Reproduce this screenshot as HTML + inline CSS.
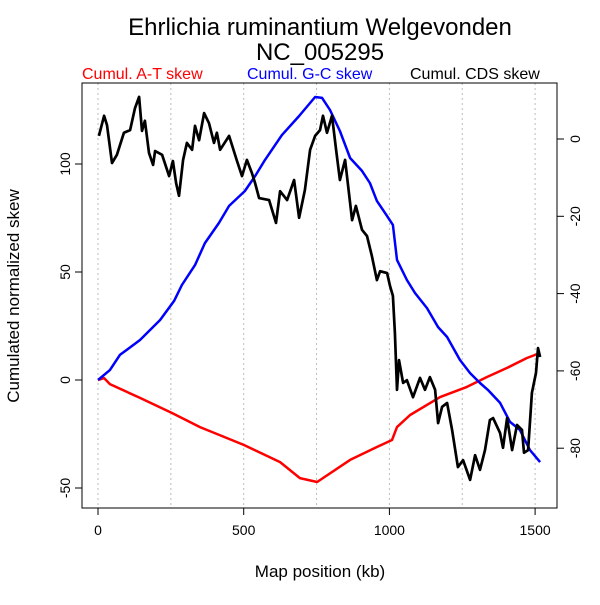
<!DOCTYPE html>
<html><head><meta charset="utf-8"><style>body{margin:0;background:#fff}svg text{font-family:"Liberation Sans",Arial,sans-serif}</style></head>
<body>
<svg id="chart" width="600" height="600" xmlns="http://www.w3.org/2000/svg">
<text x="320" y="35" font-size="24" text-anchor="middle">Ehrlichia ruminantium Welgevonden</text>
<text x="320" y="60" font-size="24" text-anchor="middle">NC_005295</text>
<text x="82" y="79" font-size="16" fill="#ff0000">Cumul. A-T skew</text>
<text x="247" y="79" font-size="16" fill="#0000ff">Cumul. G-C skew</text>
<text x="410" y="79" font-size="16" fill="#000">Cumul. CDS skew</text>
<text x="320" y="577" font-size="17" text-anchor="middle">Map position (kb)</text>
<text transform="translate(19,296) rotate(-90)" font-size="17" text-anchor="middle">Cumulated normalized skew</text>
<g id="grid"></g><g id="axes"></g><g id="series"></g>
<rect x="82" y="83" width="475" height="425" fill="none" stroke="#000" stroke-width="1"/>
</svg>
<script>
const xTicks=[0,500,1000,1500];
const gridX=[0,250,500,750,1000,1250,1500];
const leftTicks=[-50,0,50,100];
const rightTicks=[-80,-60,-40,-20,0];
const atX=[0,21,41,144,254,350,501,625,693,752,865,957,1009,1026,1071,1174,1266,1335,1404,1472,1517];
const atY=[0,0.9,-1.9,-8.3,-15.3,-21.8,-30.1,-38,-45.4,-47.2,-37,-31,-27.8,-21.8,-16.2,-7.9,-3.2,1.4,5.6,10.2,12.5];
const gcX=[0,41,75,144,213,261,288,333,367,415,450,504,539,573,631,690,745,769,796,830,865,906,933,957,992,1012,1026,1060,1088,1129,1167,1198,1242,1277,1311,1338,1380,1414,1448,1482,1517];
const gcY=[0,4.6,11.6,18.5,27.8,36.6,44,53.2,63.4,72.7,80.6,87.5,94.4,101.9,113.4,122.2,131,130.6,125,115.3,102.8,96.8,91.2,82.9,75.9,71.8,55.6,46.3,40.3,33.3,24.5,19.9,9.3,3.2,-1.4,-4.6,-10.6,-19.4,-23.1,-32.4,-38];
const cdsX=[3,21,31,48,65,89,110,127,141,151,161,175,189,196,220,244,257,268,278,292,305,323,333,347,364,381,398,408,419,450,477,494,511,528,539,553,587,611,625,649,673,690,710,728,745,762,772,786,803,817,830,848,872,885,906,923,940,957,968,992,1002,1012,1019,1026,1033,1047,1060,1081,1105,1122,1139,1157,1167,1181,1198,1215,1235,1253,1277,1294,1311,1328,1345,1356,1380,1390,1404,1421,1438,1455,1462,1476,1489,1503,1510,1517];
const cdsY=[0.8,6,3.6,-6.2,-4.1,1.6,2.3,8,10.9,2.1,4.7,-3.6,-6.7,-3.1,-4.1,-9.6,-5.7,-11.4,-14.7,-5.4,-1,-2.8,3.4,-0.3,6.7,4.1,-1,1.6,-2.8,0.8,-5.7,-9.6,-5.4,-8.8,-11.4,-15.3,-15.8,-21.7,-13.5,-15.8,-10.6,-20.4,-13.2,-2.8,0.8,2.3,6,1.6,6,-2.8,-10.6,-5.4,-21,-17.3,-23.5,-25.1,-30.3,-36.5,-34.2,-34.7,-38,-40.6,-50.2,-64.9,-57.2,-63.1,-62.4,-66.8,-61.8,-64.9,-61.6,-64.9,-73.5,-69.3,-68.3,-75.3,-84.9,-83.1,-88.2,-81.8,-85.6,-80.5,-72.7,-72.2,-76.1,-79.9,-72.2,-80.5,-74,-75.3,-81.2,-80.5,-65.7,-60.5,-54.1,-56.4];
const NS="http://www.w3.org/2000/svg";
const sx=v=>98+v*0.2914, sl=v=>380-v*2.16, sr=v=>139-v*3.865;
function mk(tag,parent,attrs){const e=document.createElementNS(NS,tag);for(const k in attrs)e.setAttribute(k,attrs[k]);document.getElementById(parent).appendChild(e);return e;}
gridX.forEach(v=>{const e=mk('line','grid',{x1:sx(v),x2:sx(v),y1:83,y2:508,stroke:'#bbb','stroke-dasharray':'2,3'});

});
xTicks.forEach(v=>{const l=mk('line','axes',{x1:sx(v),x2:sx(v),y1:508,y2:515,stroke:'#000'});


const t=mk('text','axes',{x:sx(v),y:535,'font-size':14,'text-anchor':'middle'});t.textContent=v;

});
leftTicks.forEach(v=>{const l=mk('line','axes',{x1:75,x2:82,y1:sl(v),y2:sl(v),stroke:'#000'});


const t=mk('text','axes',{transform:`translate(70,${sl(v)}) rotate(-90)`,'font-size':14,'text-anchor':'middle'});t.textContent=v;

});
rightTicks.forEach(v=>{const l=mk('line','axes',{x1:557,x2:564,y1:sr(v),y2:sr(v),stroke:'#000'});


const t=mk('text','axes',{transform:`translate(580,${sr(v)}) rotate(-90)`,'font-size':14,'text-anchor':'middle'});t.textContent=v;

});
function line(xs,ys,fy,color,w,name){const d=xs.map((x,i)=>(i?'L':'M')+sx(x).toFixed(1)+','+fy(ys[i]).toFixed(1)).join('');
const p=mk('path','series',{d:d,fill:'none',stroke:color,'stroke-width':w,'stroke-linejoin':'round'});

}
line(atX,atY,sl,'#ff0000',2.5,'at-skew-line');
line(gcX,gcY,sl,'#0000ff',2.5,'gc-skew-line');
line(cdsX,cdsY,sr,'#000',2.7,'cds-skew-line');
</script>
</body></html>
